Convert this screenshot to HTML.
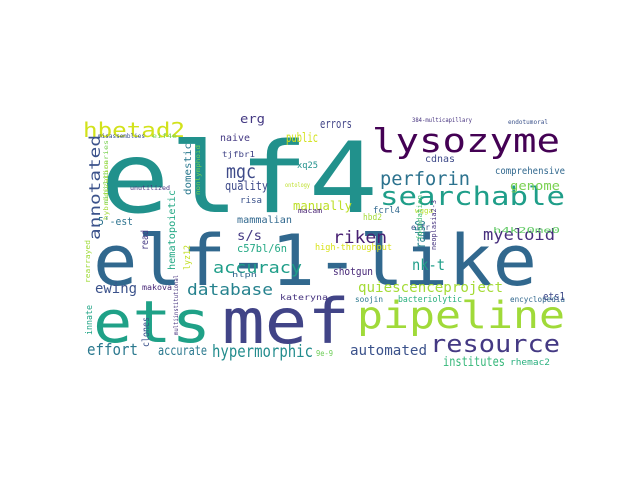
<!DOCTYPE html>
<html><head><meta charset="utf-8"><style>
html,body{margin:0;padding:0;background:#fff;}
svg{display:block;}
text{font-family:"DejaVu Sans Mono","Liberation Mono",monospace;}
</style></head><body>
<svg width="640" height="480" viewBox="0 0 640 480">
<rect width="640" height="480" fill="#fff"/>
<g id="words"></g>
</svg>
<script>
const words = ["elf4","elf-1-like","ets","mef","pipeline","resource","searchable","lysozyme","hbetad2","annotated","mgc","perforin","myeloid","riken","accuracy","database","quiescenceproject","hypermorphic","effort","automated","institutes","accurate","ewing","genome","comprehensive","cdnas","errors","erg","public","naive","quality","manually","s/s","c57bl/6n","shotgun","nk-t","high-throughput","mammalian","5'-est","risa","xq25","tjfbr1","makova","kateryna","soojin","bacteriolytic","encyclopedia","ets1","rhemac2","9e-9","fcrl4","hbd2","elfr","h4k20me0","wgga","macam","endotumoral","384-multicapillary","ontology","unutilized","misassemblies","eif4e","hlpn","clones","innate","rearrayed","read","hematopoietic","lyz12","rad50","domestic","nonlymphoid","minilibraries","foundation","neoplasia2-3","multiinstitutional","hybridization"];
const xs = [100,93,93,222,357,430,380,372,83,100,226,380,483,333,213,187,358,212,87,350,443,158,95,510,495,425,320,240,286,220,225,293,237,237,333,412,315,237,98,240,297,222,142,280,355,398,510,543,510,316,373,363,411,493,415,298,508,412,285,130,98,152,232,149,92,90,148,175,190,425,191,200,108,422,436,178,108];
const ys = [212,285,342,343,328,352,205,152,137,240,178,185,240,243,273,295,292,357,355,355,366,355,293,190,174,162,128,123,142,141,190,210,240,252,275,270,250,223,225,203,168,157,290,300,302,302,302,300,365,356,213,220,230,233,213,213,124,122,187,190,138,138,277,347,335,283,250,270,270,248,195,195,205,240,250,335,220];
const sizes = [98,70,58,62,37,24,26,33,20,15,19,19,16,17,16,16,14,17,16,14,13,13,14,12,10,10,12,12,13,10,12,12,13,11,11,15,9,10,11,9,9,8,8,8,8,9,8,11,9,8,9,9,8,8,7,7,6,6,6,6,6,6,7,10,9,7,10,10,9,13,10,6,6,7,7,6,6];
const widths = [278,444,118,128,208,130,185,188,102,105,30,90,72,54,89,86,145,101,51,77,62,49,42,50,70,30,32,25,32,30,43,59,25,50,40,33,77,55,35,22,21,33,30,48,28,64,55,22,40,17,27,19,19,67,18,24,40,60,25,40,47,25,25,30,30,43,20,80,25,28,52,50,65,45,50,60,60];
const colors = ["#21918c","#31688e","#1fa187","#414487","#a0da39","#443983","#1f9e89","#440154","#d2e21b","#3b528b","#3e4a89","#2c728e","#472f7d","#482173","#1f9e89","#26828e","#a5db36","#228c8d","#2a788e","#3b528b","#35b779","#2a788e","#3b528b","#7ad151","#31688e","#3e4a89","#414487","#443983","#d2e21b","#443983","#3e4a89","#bddf26","#443983","#22a884","#482878","#1f9e89","#d8e219","#31688e","#2c728e","#3b528b","#21918c","#414487","#482878","#46337f","#2a788e","#29af7f","#31688e","#3e4a89","#2ab07f","#6ece58","#31688e","#a5db36","#3b528b","#5ec962","#b5de2b","#482173","#3b528b","#46337f","#bddf26","#46337f","#3b528b","#7ad151","#31688e","#3b528b","#20a486","#a0da39","#443983","#22a884","#c2df23","#26828e","#2a788e","#75d054","#7ad151","#44bf70","#46337f","#46337f","#a0da39"];
const rotated = [0,0,0,0,0,0,0,0,0,1,0,0,0,0,0,0,0,0,0,0,0,0,0,0,0,0,0,0,0,0,0,0,0,0,0,0,0,0,0,0,0,0,0,0,0,0,0,0,0,0,0,0,0,0,0,0,0,0,0,0,0,0,0,1,1,1,1,1,1,1,1,1,1,1,1,1,1];
const g = document.getElementById('words');
const NS = 'http://www.w3.org/2000/svg';
for (let i = 0; i < words.length; i++) {
  const t = document.createElementNS(NS, 'text');
  
  
  t.setAttribute('font-size', sizes[i]);
  t.setAttribute('fill', colors[i]);
  t.setAttribute('textLength', widths[i]);
  t.setAttribute('lengthAdjust', 'spacingAndGlyphs');
  if (rotated[i]) {
    t.setAttribute('transform', 'translate(' + xs[i] + ',' + ys[i] + ') rotate(-90)');
  } else {
    t.setAttribute('x', xs[i]);
    t.setAttribute('y', ys[i]);
  }
  t.textContent = words[i];
  g.appendChild(t);
}
</script>
</body></html>
